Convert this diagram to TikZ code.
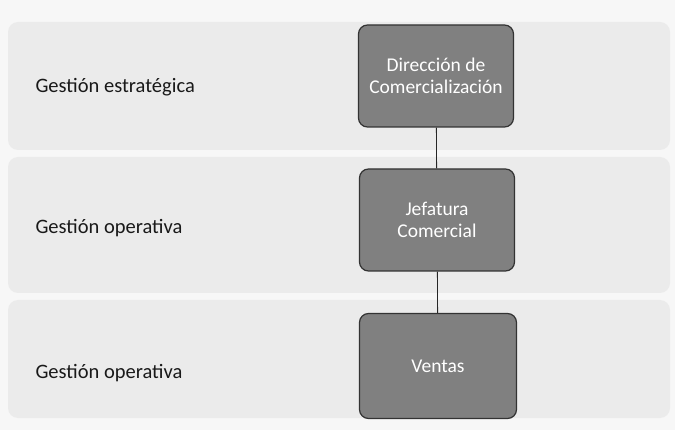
\documentclass[tikz,border=0pt]{standalone}
\usepackage{fontspec}
\setmainfont{Carlito}
\begin{document}
\begin{tikzpicture}[x=1pt,y=-1pt,
  band/.style={fill=black!8,draw=none,rounded corners=10pt},
  unit/.style={draw=black!80,line width=1.2pt,fill=black!50,rounded corners=9pt,text=white,
    minimum width=155pt,minimum height=102pt,align=center,font=\fontsize{19.5}{21.5}\selectfont,inner sep=0pt},
  lvl/.style={anchor=west,font=\fontsize{20.5}{24}\selectfont,text=black!90},
  link/.style={draw=black!85,line width=0.8pt}]
\useasboundingbox (0,0) rectangle (675,430);
\fill[white!97!black] (0,0) rectangle (675,430);
\path[band] (8,22) rectangle (670,150);
\path[band] (8,157) rectangle (670,293);
\path[band] (8,300) rectangle (670,418);
\node[lvl] (l1) at (32,87) {Gestión estratégica};
\node[lvl] (l2) at (32,228) {Gestión operativa};
\node[lvl] (l3) at (32,373) {Gestión operativa};
\node[unit] (b1) at (436,76) {Dirección de\\Comercialización};
\node[unit] (b2) at (437,220) {Jefatura\\Comercial};
\node[unit,minimum width=157pt,minimum height=105pt] (b3) at (438,366) {Ventas};
\draw[link] (b1) -- (b2);
\draw[link] (b2) -- (b3);
\end{tikzpicture}
\end{document}
